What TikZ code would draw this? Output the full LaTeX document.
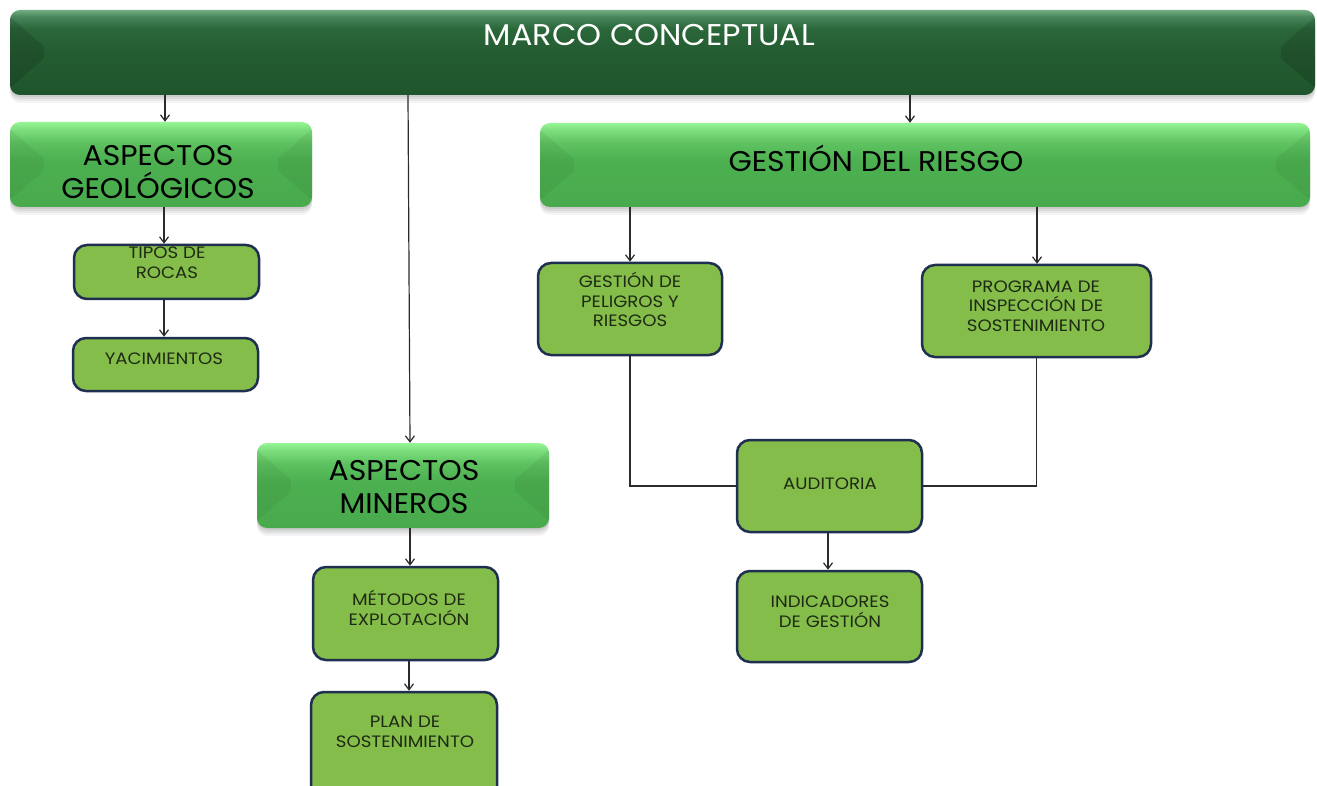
\documentclass[tikz,border=0pt]{standalone}
\usepackage{fontspec}
\setmainfont{Poppins}
\newfontfamily\topfont{Poppins}[FakeStretch=1.06]
\newfontfamily\bigfont{Poppins}[FakeStretch=1.05]
\newfontfamily\smallfont{Poppins}[FakeStretch=1.1]
\usetikzlibrary{arrows.meta,calc}

\definecolor{dkA}{HTML}{1F552C}
\definecolor{dkB}{HTML}{245C31}
\definecolor{dkC}{HTML}{2A6739}
\definecolor{dkD}{HTML}{47865A}
\definecolor{dkE}{HTML}{72AC80}
\definecolor{ltA}{HTML}{48AA4C}
\definecolor{ltB}{HTML}{4CAF50}
\definecolor{ltC}{HTML}{5EC260}
\definecolor{ltD}{HTML}{7EDF7E}
\definecolor{ltE}{HTML}{96F696}
\definecolor{smallfill}{HTML}{84BD4A}
\definecolor{smallborder}{HTML}{1F2F50}
\definecolor{smalltext}{HTML}{1E2A14}
\definecolor{linecol}{HTML}{2B2B2B}

\pgfdeclareverticalshading{darkbar}{100bp}{color(0bp)=(dkA); color(25bp)=(dkA); color(50bp)=(dkB); color(64bp)=(dkC); color(71bp)=(dkD); color(75bp)=(dkE); color(100bp)=(dkE)}
\pgfdeclareverticalshading{lightbar}{100bp}{color(0bp)=(ltA); color(25bp)=(ltA); color(52bp)=(ltB); color(63bp)=(ltC); color(71bp)=(ltD); color(75bp)=(ltE); color(100bp)=(ltE)}

\tikzset{
  softshadow/.style={
    preaction={fill=black,opacity=0.06,transform canvas={yshift=-2pt}},
    preaction={fill=black,opacity=0.06,transform canvas={yshift=-4pt}},
    preaction={fill=black,opacity=0.05,transform canvas={yshift=-6pt}},
    preaction={fill=black,opacity=0.04,transform canvas={yshift=-8pt}}},
  bigbox/.style={rectangle, rounded corners=10pt, inner sep=0pt, softshadow, shade, shading=#1},
  smallbox/.style={rectangle, rounded corners=13pt, inner sep=0pt, fill=smallfill, draw=smallborder, line width=2.5pt},
  facet/.style={fill=black, opacity=#1},
  bigtxt/.style={inner sep=0pt, align=center, font=\bigfont\fontsize{28.5}{33}\selectfont, text=black,
    execute at begin node=\strut, execute at end node=\strut},
  toptxt/.style={inner sep=0pt, align=center, font=\topfont\fontsize{30}{36}\selectfont, text=white,
    execute at begin node=\strut, execute at end node=\strut},
  smalltxt/.style={inner sep=0pt, align=center, font=\smallfont\fontsize{16.5}{19.5}\selectfont, text=smalltext,
    execute at begin node=\strut, execute at end node=\strut},
  arr/.style={draw=linecol, line width=1.2pt, -{Straight Barb[length=6pt,width=9pt,line width=1.2pt]}},
  link/.style={draw=linecol, line width=1.2pt},
}

\newcommand{\facets}[2]{%
  \fill[facet=#2] ($(#1.north west)+(0,7)$) -- ($(#1.west)+(34,-6)$) -- ($(#1.west)+(34,6)$) -- ($(#1.south west)+(0,-7)$) -- cycle;
  \fill[facet=#2] ($(#1.north east)+(0,7)$) -- ($(#1.east)+(-34,-6)$) -- ($(#1.east)+(-34,6)$) -- ($(#1.south east)+(0,-7)$) -- cycle;
}

\begin{document}
\begin{tikzpicture}[x=1pt,y=-1pt]
\useasboundingbox (0,0) rectangle (1317,786);
\fill[white] (0,0) rectangle (1317,786);

% big boxes
\node[bigbox=darkbar, minimum width=1305pt, minimum height=85pt] (top) at (662.5,52.5) {};
\facets{top}{0.12}
\node[bigbox=lightbar, minimum width=302pt, minimum height=85pt] (ag) at (161,164.5) {};
\facets{ag}{0.05}
\node[bigbox=lightbar, minimum width=770pt, minimum height=84pt] (gr) at (925,165) {};
\facets{gr}{0.05}
\node[bigbox=lightbar, minimum width=292pt, minimum height=85pt] (am) at (403,485.5) {};
\facets{am}{0.05}

\node[toptxt] (ttop) at (649.5,38.5) {MARCO CONCEPTUAL};
\node[bigtxt] (tag) at (158,176.5) {ASPECTOS\\GEOLÓGICOS};
\node[bigtxt] (tgr) at (876,163.5) {GESTIÓN DEL RIESGO};
\node[bigtxt] (tam) at (404,491.5) {ASPECTOS\\MINEROS};

% small boxes
\node[smallbox, minimum width=185pt, minimum height=54pt] (tipos) at (166.5,272) {};
\node[smallbox, minimum width=185pt, minimum height=53pt] (yac) at (165.5,364.5) {};
\node[smallbox, minimum width=184pt, minimum height=92pt] (gpr) at (630,309) {};
\node[smallbox, minimum width=229pt, minimum height=92pt] (prog) at (1036.5,311) {};
\node[smallbox, minimum width=185pt, minimum height=92pt] (aud) at (829.5,486) {};
\node[smallbox, minimum width=185pt, minimum height=91pt] (ind) at (829.5,616.5) {};
\node[smallbox, minimum width=185pt, minimum height=93pt] (met) at (405.5,613.5) {};
\node[smallbox, minimum width=186pt, minimum height=108pt] (plan) at (404,746) {};

\node[smalltxt] (ttipos) at (167,265.5) {TIPOS DE\\ROCAS};
\node[smalltxt] (tyac) at (164,360.5) {YACIMIENTOS};
\node[smalltxt] (tgpr) at (630,302.4) {GESTIÓN DE\\PELIGROS Y\\RIESGOS};
\node[smalltxt] (tprog) at (1036,309) {PROGRAMA DE\\INSPECCIÓN DE\\SOSTENIMIENTO};
\node[smalltxt] (taud) at (830,485.5) {AUDITORIA};
\node[smalltxt] (tind) at (830,614.5) {INDICADORES\\DE GESTIÓN};
\node[smalltxt] (tmet) at (409,610.6) {MÉTODOS DE\\EXPLOTACIÓN};
\node[smalltxt] (tplan) at (405,734.5) {PLAN DE\\SOSTENIMIENTO};

% x positions of connectors
\coordinate (x165) at (165,0);
\coordinate (x164) at (164,0);
\coordinate (x408) at (408,0);
\coordinate (x410) at (410,0);
\coordinate (x409) at (409,0);
\coordinate (x910) at (910,0);
\coordinate (x1037) at (1037,0);
\coordinate (x828) at (828,0);

% connectors
\draw[arr] (top.south -| x165) -- (ag.north -| x165);
\draw[arr] (top.south -| x408) -- (am.north -| x410);
\draw[arr] (top.south -| x910) -- (gr.north -| x910);
\draw[arr] (ag.south -| x164) -- (tipos.north -| x164);
\draw[arr] (tipos.south -| x164) -- (yac.north -| x164);
\draw[arr] (gr.south -| gpr.north) -- (gpr.north);
\draw[arr] (gr.south -| x1037) -- (prog.north -| x1037);
\draw[link] (gpr.south) |- (aud.west);
\draw[link] (prog.south) |- (aud.east);
\draw[arr] (aud.south -| x828) -- (ind.north -| x828);
\draw[arr] (am.south -| x410) -- (met.north -| x410);
\draw[arr] (met.south -| x409) -- (plan.north -| x409);
\end{tikzpicture}
\end{document}
